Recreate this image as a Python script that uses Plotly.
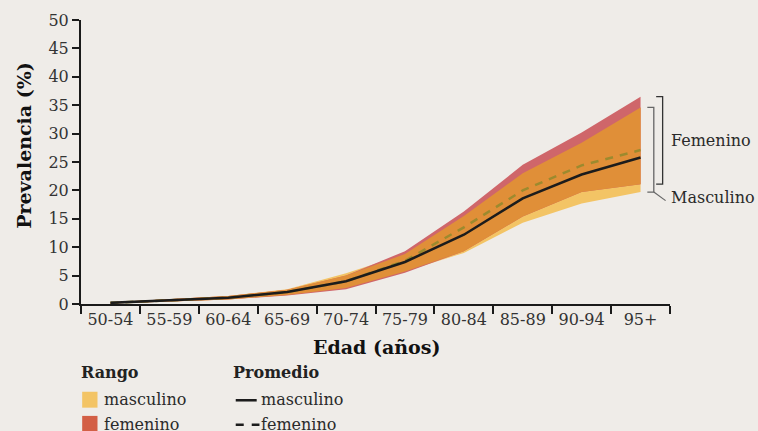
import plotly.graph_objects as go

edades = ["50-54", "55-59", "60-64", "65-69", "70-74",
          "75-79", "80-84", "85-89", "90-94", "95+"]

prom_masc = [0.2, 0.6, 1.1, 2.1, 4.0, 7.4, 12.2, 18.6, 22.8, 25.8]
prom_fem = [0.2, 0.6, 1.1, 2.1, 4.0, 7.6, 13.5, 20.0, 24.4, 27.1]

masc_min = [0.1, 0.4, 0.8, 1.6, 2.8, 5.7, 9.0, 14.3, 17.7, 19.7]
masc_max = [0.3, 0.8, 1.4, 2.6, 5.4, 8.8, 15.5, 23.0, 28.4, 34.6]
fem_min = [0.1, 0.4, 0.8, 1.5, 2.6, 5.5, 9.3, 15.4, 19.7, 21.1]
fem_max = [0.3, 0.8, 1.4, 2.5, 5.0, 9.3, 16.3, 24.5, 30.2, 36.5]

y_ticks = [0, 5, 10, 15, 20, 25, 30, 35, 40, 45, 50]

FONDO = "#efece8"
AMARILLO = "#f3c465"
ROJO = "#cf666a"
NARANJA = "#e08f38"
ROJO_LEYENDA = "#d35f45"
OLIVA = "#9c8a2e"
SERIF = "DejaVu Serif"

# zona donde se solapan los dos rangos
solapa_min = [max(a, b) for a, b in zip(masc_min, fem_min)]
solapa_max = [min(a, b) for a, b in zip(masc_max, fem_max)]

fig = go.Figure()


def banda(bajo, alto, color):
    fig.add_trace(go.Scatter(x=edades, y=bajo, mode="lines",
                             line=dict(width=0), showlegend=False,
                             hoverinfo="skip"))
    fig.add_trace(go.Scatter(x=edades, y=alto, mode="lines",
                             line=dict(width=0), fill="tonexty",
                             fillcolor=color, showlegend=False,
                             hoverinfo="skip"))


banda(masc_min, masc_max, AMARILLO)
banda(fem_min, fem_max, ROJO)
banda(solapa_min, solapa_max, NARANJA)

# promedios
fig.add_trace(go.Scatter(x=edades, y=prom_fem, mode="lines",
                         line=dict(color=OLIVA, width=2.5, dash="8px,7px"),
                         showlegend=False))
fig.add_trace(go.Scatter(x=edades, y=prom_masc, mode="lines",
                         line=dict(color="#1c1c1c", width=2.5),
                         showlegend=False))

fig.update_layout(
    width=758,
    height=431,
    paper_bgcolor=FONDO,
    plot_bgcolor=FONDO,
    margin=dict(l=81, r=88, t=20, b=127),
    font=dict(family=SERIF, color="#2a2a2a"),
)

fig.update_xaxes(
    type="category",
    range=[-0.5, 9.5],
    tickson="boundaries",
    ticks="outside",
    ticklen=8,
    tickwidth=2,
    tickcolor="#1a1a1a",
    showline=True,
    linecolor="#1a1a1a",
    linewidth=2,
    showgrid=False,
    automargin=False,
    tickfont=dict(size=16, family=SERIF, color="#333"),
)

fig.update_yaxes(
    range=[0, 50],
    tickvals=y_ticks,
    ticks="outside",
    ticklen=7,
    tickwidth=2,
    tickcolor="#1a1a1a",
    showline=True,
    linecolor="#1a1a1a",
    linewidth=2,
    showgrid=False,
    zeroline=False,
    automargin=False,
    tickfont=dict(size=16, family=SERIF, color="#333"),
)

# titulos de ejes
fig.add_annotation(xref="paper", yref="paper", x=0.501, y=-0.151,
                   xanchor="center", yanchor="middle", showarrow=False,
                   text="<b>Edad (años)</b>",
                   font=dict(size=19, family=SERIF, color="#111"))
fig.add_annotation(xref="paper", yref="paper", x=-0.097, y=0.56,
                   xanchor="center", yanchor="middle", showarrow=False,
                   textangle=-90, text="<b>Prevalencia (%)</b>",
                   font=dict(size=19, family=SERIF, color="#111"))

# corchetes de la derecha
x_fem = 1.0 - 0.0125
x_masc = x_fem - 0.015
fig.add_shape(type="path", xref="paper", yref="y",
              path=f"M {x_fem - 0.011},{fem_max[-1]} L {x_fem},{fem_max[-1]} "
                   f"L {x_fem},{fem_min[-1]} L {x_fem - 0.011},{fem_min[-1]}",
              line=dict(color="#333", width=1.3))
fig.add_shape(type="path", xref="paper", yref="y",
              path=f"M {x_masc - 0.011},{masc_max[-1]} L {x_masc},{masc_max[-1]} "
                   f"L {x_masc},{masc_min[-1]} L {x_masc - 0.011},{masc_min[-1]}",
              line=dict(color="#666", width=1.3))

fig.add_annotation(xref="paper", yref="y", x=0.998, y=(fem_max[-1] + fem_min[-1]) / 2,
                   text="Femenino", showarrow=False, xanchor="left", yanchor="middle",
                   font=dict(size=16, family=SERIF, color="#2a2a2a"))
fig.add_annotation(xref="paper", yref="y", x=0.998, y=masc_min[-1] - 1.0,
                   text="Masculino", showarrow=False, xanchor="left", yanchor="middle",
                   font=dict(size=16, family=SERIF, color="#2a2a2a"))
fig.add_shape(type="line", xref="paper", yref="y",
              x0=x_masc, y0=masc_min[-1], x1=x_masc + 0.02, y1=masc_min[-1] - 1.5,
              line=dict(color="#666", width=1.2))

# leyenda manual
ley_font = dict(size=16, family=SERIF, color="#2a2a2a")
fig.add_annotation(xref="paper", yref="paper", x=-0.003, y=-0.242,
                   xanchor="left", yanchor="middle",
                   text="<b>Rango</b>", showarrow=False,
                   font=dict(size=16, family=SERIF, color="#222"))
fig.add_annotation(xref="paper", yref="paper", x=0.255, y=-0.242,
                   xanchor="left", yanchor="middle",
                   text="<b>Promedio</b>", showarrow=False,
                   font=dict(size=16, family=SERIF, color="#222"))

fig.add_shape(type="rect", xref="paper", yref="paper",
              x0=0.002, x1=0.028, y0=-0.365, y1=-0.309,
              fillcolor=AMARILLO, line=dict(width=0))
fig.add_shape(type="rect", xref="paper", yref="paper",
              x0=0.002, x1=0.028, y0=-0.46, y1=-0.394,
              fillcolor=ROJO_LEYENDA, line=dict(width=0))
fig.add_annotation(xref="paper", yref="paper", x=0.036, y=-0.337,
                   xanchor="left", yanchor="middle",
                   text="masculino", showarrow=False, font=ley_font)
fig.add_annotation(xref="paper", yref="paper", x=0.036, y=-0.425,
                   xanchor="left", yanchor="middle",
                   text="femenino", showarrow=False, font=ley_font)

fig.add_shape(type="line", xref="paper", yref="paper",
              x0=0.2627, x1=0.2983, y0=-0.339, y1=-0.339,
              line=dict(color="#1c1c1c", width=2.5))
fig.add_shape(type="line", xref="paper", yref="paper",
              x0=0.2627, x1=0.303, y0=-0.425, y1=-0.425,
              line=dict(color="#1c1c1c", width=2.5, dash="8px,8px"))
fig.add_annotation(xref="paper", yref="paper", x=0.303, y=-0.337,
                   xanchor="left", yanchor="middle",
                   text="masculino", showarrow=False, font=ley_font)
fig.add_annotation(xref="paper", yref="paper", x=0.303, y=-0.425,
                   xanchor="left", yanchor="middle",
                   text="femenino", showarrow=False, font=ley_font)

fig.write_html(
    "out.html",
    config={"displayModeBar": False},
    post_script="document.body.style.margin='0';"
                "document.body.style.background='" + FONDO + "';",
)
